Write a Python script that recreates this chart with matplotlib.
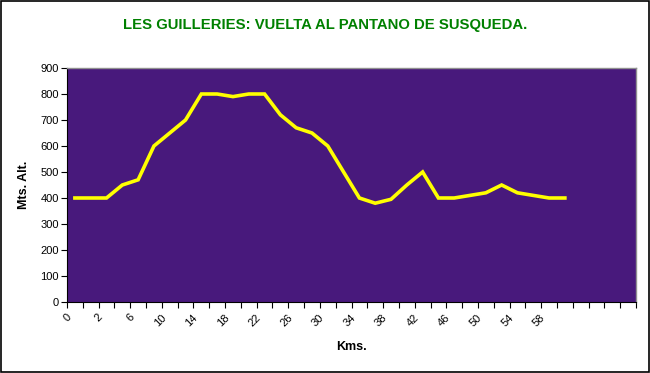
import matplotlib
matplotlib.use("Agg")
import matplotlib.pyplot as plt
from matplotlib.transforms import ScaledTranslation

plt.rcParams['font.family'] = ['Liberation Sans', 'DejaVu Sans']

kms = [0, 1, 2, 4, 6, 8, 10, 12, 14, 16, 18, 20, 22, 24, 26, 28, 30, 32, 34, 36,
       38, 40, 42, 44, 46, 48, 50, 52, 54, 56, 58, 60]
altitude = [400, 400, 400, 450, 470, 600, 650, 700, 800, 800, 790, 800, 800, 720,
            670, 650, 600, 500, 400, 380, 395, 450, 500, 400, 400, 410, 420, 450,
            420, 410, 400, 400]
n_slots = 36
title = "LES GUILLERIES: VUELTA AL PANTANO DE SUSQUEDA."
y_ticks = list(range(0, 1000, 100))

fig = plt.figure(figsize=(6.5, 3.73), dpi=100)
fig.patch.set_facecolor('white')
ax = fig.add_axes([67/650, 71/373, 569/650, 234/373])
ax.set_facecolor('#48197c')

x = list(range(len(kms)))
ax.plot(x, altitude, color='#ffff00', lw=2.6, solid_joinstyle='miter')

ax.set_xlim(-0.5, n_slots - 0.5)
ax.set_ylim(0, 900)
ax.set_yticks(y_ticks)
ax.set_yticklabels([str(v) for v in y_ticks], fontsize=8)

# minor ticks between categories, labels every other category
ax.set_xticks([i - 0.5 for i in range(n_slots + 1)], minor=True)
ax.set_xticks(x[::2])
ax.tick_params(axis='x', which='major', length=0, pad=6)
ax.tick_params(axis='x', which='minor', length=4, width=0.8, direction='out')
ax.tick_params(axis='y', length=4, width=0.8, direction='out', pad=2)
ax.set_xticklabels([str(kms[i]) for i in x[::2]], rotation=45, ha='right',
                   va='top', fontsize=8, rotation_mode='anchor')
shift = ScaledTranslation(-9/100, -2/100, fig.dpi_scale_trans)
for tick in ax.xaxis.get_major_ticks():
    tick.label1.set_transform(tick.label1.get_transform() + shift)

for s in ['left', 'bottom']:
    ax.spines[s].set_color('black')
    ax.spines[s].set_linewidth(0.8)
for s in ['top', 'right']:
    ax.spines[s].set_color('#909090')
    ax.spines[s].set_linewidth(1.0)

fig.text(0.5, 1 - 25/373, title, ha='center', va='center', color='#008000',
         fontsize=10.7, fontweight='bold')
ax.set_ylabel("Mts. Alt.", fontsize=9, fontweight='bold')
ax.yaxis.set_label_coords(-37/569, 0.5)
ax.set_xlabel("Kms.", fontsize=9, fontweight='bold')
ax.xaxis.set_label_coords(0.5, -0.165)

border = plt.Rectangle((0.001, 0.002), 0.997, 0.995, transform=fig.transFigure,
                       fill=False, edgecolor='black', lw=1.2)
fig.patches.append(border)

fig.savefig('out.png', dpi=100, facecolor='white')
